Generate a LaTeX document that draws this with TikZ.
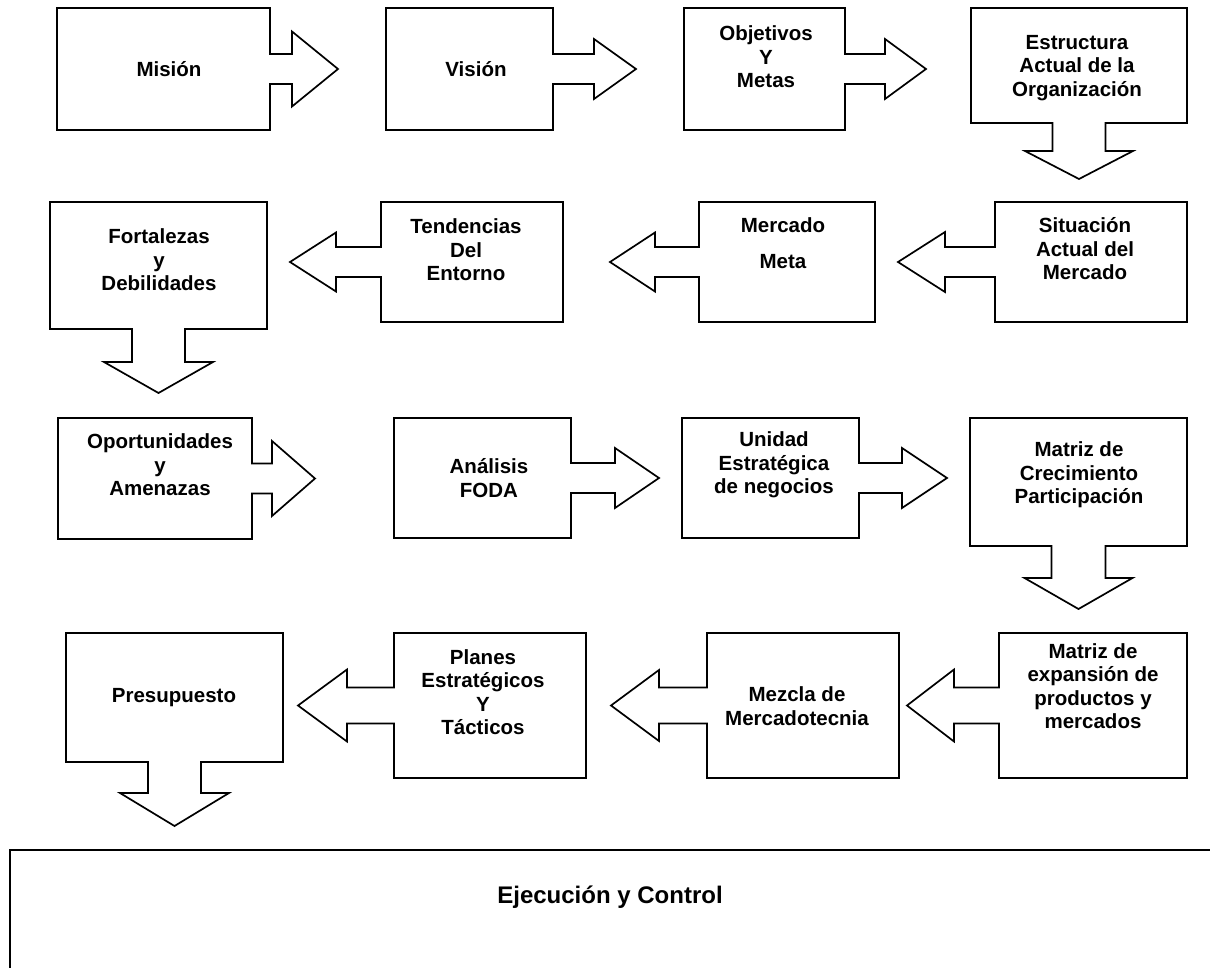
\documentclass[tikz,border=0pt]{standalone}
\usepackage{fontspec}
\setmainfont{Liberation Sans}

% Box with a block arrow leaving its right side:
% x1, y1, x2, y2, shaft half-height, head base x, head half-height, tip x
\newcommand{\rightcallout}[8]{%
  \draw[boxshape] (#1,#2) -- (#3,#2) -- (#3,{(#2+#4)/2-#5}) -- (#6,{(#2+#4)/2-#5})
    -- (#6,{(#2+#4)/2-#7}) -- (#8,{(#2+#4)/2}) -- (#6,{(#2+#4)/2+#7})
    -- (#6,{(#2+#4)/2+#5}) -- (#3,{(#2+#4)/2+#5}) -- (#3,#4) -- (#1,#4) -- cycle;}
% Box with a block arrow leaving its left side
\newcommand{\leftcallout}[8]{%
  \draw[boxshape] (#3,#2) -- (#1,#2) -- (#1,{(#2+#4)/2-#5}) -- (#6,{(#2+#4)/2-#5})
    -- (#6,{(#2+#4)/2-#7}) -- (#8,{(#2+#4)/2}) -- (#6,{(#2+#4)/2+#7})
    -- (#6,{(#2+#4)/2+#5}) -- (#1,{(#2+#4)/2+#5}) -- (#1,#4) -- (#3,#4) -- cycle;}
% Box with a block arrow leaving its bottom side:
% x1, y1, x2, y2, shaft half-width, head base y, head half-width, tip y
\newcommand{\downcallout}[8]{%
  \draw[boxshape] (#1,#2) -- (#3,#2) -- (#3,#4) -- ({(#1+#3)/2+#5},#4) -- ({(#1+#3)/2+#5},#6)
    -- ({(#1+#3)/2+#7},#6) -- ({(#1+#3)/2},#8) -- ({(#1+#3)/2-#7},#6)
    -- ({(#1+#3)/2-#5},#6) -- ({(#1+#3)/2-#5},#4) -- (#1,#4) -- cycle;}

\begin{document}
\begin{tikzpicture}[x=1pt,y=-1pt,
  boxshape/.style={draw=black,line width=1.7pt,line join=miter,fill=white},
  txt/.style={font=\bfseries\fontsize{20.5}{23.5}\selectfont,align=center,inner sep=0pt}]
\useasboundingbox (0,0) rectangle (1210,967);
\fill[white] (0,0) rectangle (1210,967);

% Row 1
\rightcallout{57}{8}{270}{130}{15}{292}{37.5}{338}
\rightcallout{386}{8}{553}{130}{15}{594}{30}{636}
\rightcallout{684}{8}{845}{130}{15}{885}{30}{926}
\downcallout{971}{8}{1187}{123}{26.5}{151}{54}{179}
\node[txt] (mision) at (169,69) {Misión};
\node[txt] (vision) at (476,69) {Visión};
\node[txt] (objetivos) at (766,57) {Objetivos\\Y\\Metas};
\node[txt] (estructura) at (1077,68) {Estructura\\Actual de la\\Organización};

% Row 2
\leftcallout{995}{202}{1187}{322}{15}{945}{30}{898}
\leftcallout{699}{202}{875}{322}{15}{655}{29.5}{610}
\leftcallout{381}{202}{563}{322}{15}{336}{29.5}{290}
\downcallout{50}{202}{267}{329}{26.5}{362}{54.5}{393}
\node[txt] (situacion) at (1085,249) {Situación\\Actual del\\Mercado};
\node[txt] (mercado) at (783,243) {Mercado\\[13pt]Meta};
\node[txt] (tendencias) at (466,250) {Tendencias\\Del\\Entorno};
\node[txt] (fortalezas) at (159,260) {Fortalezas\\y\\Debilidades};

% Row 3
\rightcallout{58}{418}{252}{539}{15}{272}{37.5}{315}
\rightcallout{394}{418}{571}{538}{15}{615}{30}{659}
\rightcallout{682}{418}{859}{538}{15}{902}{30}{947}
\downcallout{970}{418}{1187}{546}{27}{578}{54}{609}
\node[txt] (oportunidades) at (160,465) {Oportunidades\\y\\Amenazas};
\node[txt] (foda) at (489,478) {Análisis\\FODA};
\node[txt] (unidad) at (774,465) {Unidad\\Estratégica\\de negocios};
\node[txt] (crecimiento) at (1079,475) {Matriz de\\Crecimiento\\Participación};

% Row 4
\leftcallout{999}{633}{1187}{778}{18}{954}{36}{907}
\leftcallout{707}{633}{899}{778}{18}{659}{35.5}{611}
\leftcallout{394}{633}{586}{778}{18}{347}{36}{298}
\downcallout{66}{633}{283}{762}{26.5}{793}{54.5}{826}
\node[txt] (expansion) at (1093,686) {Matriz de\\expansión de\\productos y\\mercados};
\node[txt] (mezcla) at (797,706) {Mezcla de\\Mercadotecnia};
\node[txt] (planes) at (483,692) {Planes\\Estratégicos\\Y\\Tácticos};
\node[txt] (presupuesto) at (174,698) {Presupuesto};

% Closing stage, running past the lower and right edges
\begin{scope}
  \clip (0,0) rectangle (1210,967);
  \draw[boxshape] (10,850) rectangle (1240,1000);
\end{scope}
\node[txt,font=\bfseries\fontsize{24}{27}\selectfont] (ejecucion) at (610,897) {Ejecución y Control};
\end{tikzpicture}
\end{document}
